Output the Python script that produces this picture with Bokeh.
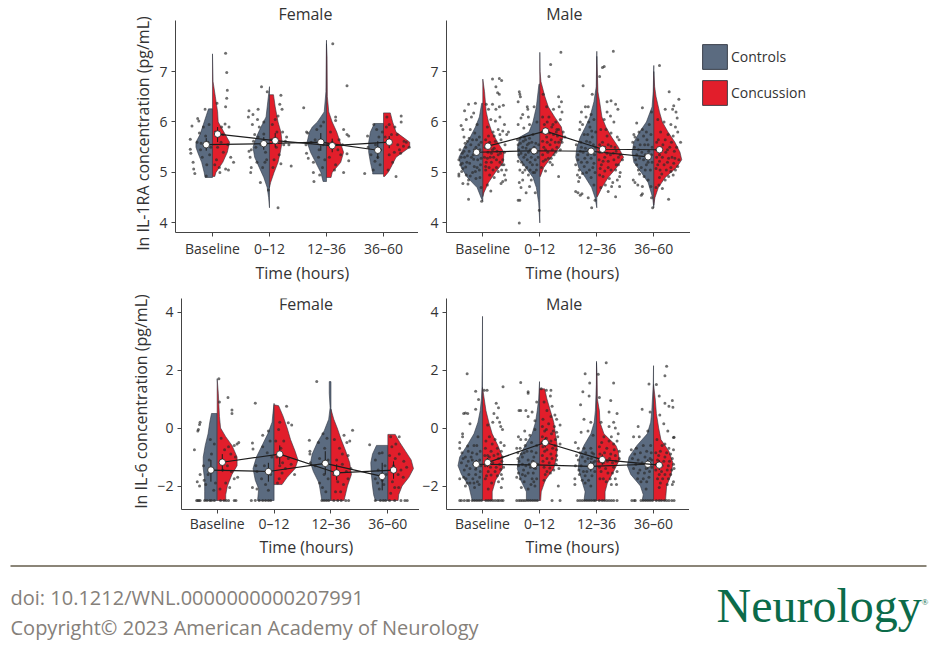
from bokeh.plotting import figure
from bokeh.layouts import column, row
from bokeh.models import Range1d, FixedTicker, Label, Legend, LegendItem, Title
from bokeh.embed import file_html
from bokeh.resources import INLINE
from bokeh.core.properties import value

times = [1, 2, 3, 4]
time_labels = ["Baseline", "0–12", "12–36", "36–60"]
group_labels = ["Controls", "Concussion"]
x_title = "Time (hours)"
y_title_top = "ln IL-1RA concentration (pg/mL)"
y_title_bottom = "ln IL-6 concentration (pg/mL)"

# Violins: flat y, half-width pairs, one list per time
a_ctrl_v = [
 [6.26,.07,5.9,.175,5.75,.22,5.6,.29,5.5,.29,5.4,.26,5.2,.19,5.0,.146,4.9,.13],
 [6.7,0,6.4,.03,6.1,.06,5.9,.15,5.7,.23,5.5,.29,5.3,.26,5.1,.18,4.9,.1,4.7,.04,4.5,.015,4.3,0],
 [7.62,0,6.6,.01,6.2,.04,6.0,.16,5.9,.25,5.8,.3,5.6,.34,5.4,.28,5.2,.19,5.0,.1,4.82,.06],
 [5.97,.16,5.8,.23,5.6,.26,5.4,.26,5.2,.23,5.0,.19,4.97,.19],
]
a_conc_v = [
 [7.35,0,6.8,.01,6.5,.05,6.2,.09,6.0,.1,5.8,.2,5.6,.3,5.4,.26,5.2,.18,5.0,.06,4.92,.04],
 [6.54,.07,6.3,.1,6.0,.15,5.8,.2,5.6,.22,5.4,.19,5.2,.15,5.0,.08,4.8,.02,4.7,0],
 [7.55,0,7.3,.01,6.5,.015,6.2,.04,6.0,.1,5.8,.18,5.6,.24,5.4,.3,5.2,.25,5.0,.1,4.9,.08],
 [6.18,.12,6.0,.16,5.8,.22,5.7,.34,5.6,.46,5.5,.46,5.4,.34,5.3,.22,5.1,.13,5.0,.08,4.92,.02],
]
b_ctrl_v = [
 [6.37,.02,6.1,.06,5.9,.13,5.7,.22,5.5,.33,5.3,.42,5.1,.38,4.9,.27,4.7,.1,4.5,.03,4.43,0],
 [6.75,.015,6.3,.06,6.0,.12,5.8,.19,5.7,.35,5.5,.39,5.3,.38,5.1,.25,4.9,.12,4.7,.06,4.4,.02,4.0,0],
 [7.4,0,6.7,.01,6.4,.05,6.1,.12,5.9,.2,5.7,.29,5.5,.35,5.3,.37,5.1,.32,4.9,.2,4.7,.09,4.5,.03,4.3,0],
 [7.12,0,6.6,.01,6.3,.03,6.0,.13,5.8,.25,5.6,.35,5.4,.38,5.2,.35,5.0,.22,4.8,.1,4.5,.02,4.3,0],
]
b_conc_v = [
 [6.85,0,6.6,.03,6.2,.06,6.0,.1,5.8,.16,5.6,.26,5.4,.37,5.2,.36,5.0,.22,4.8,.1,4.6,.02,4.52,0],
 [7.38,0,7.0,.005,6.8,.02,6.5,.09,6.3,.15,6.1,.26,5.9,.38,5.7,.41,5.5,.35,5.3,.2,5.1,.07,4.92,.01],
 [7.3,0,6.6,.02,6.4,.05,6.1,.09,5.9,.16,5.7,.26,5.5,.38,5.3,.47,5.1,.35,4.9,.2,4.7,.09,4.52,.01],
 [7.0,0,6.7,.015,6.5,.04,6.2,.1,6.0,.15,5.8,.25,5.6,.37,5.4,.46,5.25,.49,5.1,.4,4.9,.2,4.7,.08,4.5,.02,4.35,0],
]
c_ctrl_v = [
 [.5,.1,.2,.13,-.2,.16,-.6,.21,-1.0,.245,-1.4,.245,-1.8,.22,-2.2,.22,-2.5,.22],
 [.85,0,.5,.02,.2,.035,-.2,.11,-.6,.21,-1.0,.31,-1.4,.37,-1.8,.33,-2.1,.27,-2.5,.29],
 [1.6,.03,1.2,.03,.7,.015,.3,.04,-.1,.12,-.5,.24,-.9,.33,-1.2,.36,-1.5,.31,-1.9,.21,-2.5,.16],
 [-.6,.2,-.9,.27,-1.2,.3,-1.6,.29,-2.0,.27,-2.3,.25,-2.5,.22],
]
c_conc_v = [
 [1.7,0,1.2,.02,.8,.03,.4,.04,0,.06,-.3,.15,-.6,.26,-1.0,.35,-1.3,.35,-1.6,.26,-2.0,.18,-2.3,.15,-2.5,.15],
 [.8,0,.77,.08,.4,.16,0,.23,-.4,.29,-.8,.37,-1.1,.42,-1.4,.37,-1.7,.23,-1.95,.14],
 [.65,0,.3,.05,0,.11,-.4,.18,-.8,.26,-1.2,.33,-1.6,.36,-2.0,.29,-2.5,.23],
 [-.22,.13,-.5,.21,-.8,.31,-1.1,.41,-1.4,.45,-1.7,.37,-2.0,.25,-2.3,.19,-2.5,.18],
]
d_ctrl_v = [
 [3.85,0,2.2,.005,1.4,.01,1.0,.02,.6,.04,.2,.08,-.2,.15,-.6,.27,-1.0,.4,-1.3,.43,-1.6,.37,-2.0,.24,-2.5,.18],
 [1.6,0,1.0,.015,.6,.04,.2,.07,-.2,.13,-.6,.25,-1.0,.36,-1.4,.39,-1.8,.33,-2.2,.23,-2.5,.23],
 [2.3,0,1.5,.003,.6,.02,.2,.04,-.2,.1,-.6,.22,-1.0,.3,-1.4,.32,-1.8,.26,-2.2,.2,-2.5,.22],
 [2.15,0,1.5,.005,.6,.03,.2,.05,-.2,.11,-.6,.29,-1.0,.43,-1.3,.46,-1.6,.4,-2.0,.23,-2.3,.18,-2.5,.2],
]
d_conc_v = [
 [1.4,0,1.0,.03,.6,.06,.2,.11,-.2,.17,-.6,.27,-1.0,.35,-1.4,.35,-1.8,.23,-2.2,.17,-2.5,.17],
 [1.35,.09,1.0,.13,.6,.19,.2,.25,-.2,.28,-.6,.31,-1.0,.3,-1.4,.25,-1.8,.1,-2.2,.03,-2.5,.02],
 [2.25,0,1.8,.01,1.0,.015,.6,.05,.2,.06,-.2,.13,-.6,.34,-.8,.38,-1.1,.4,-1.5,.3,-1.9,.19,-2.2,.15,-2.5,.15],
 [1.5,0,1.0,.03,.5,.05,0,.09,-.4,.13,-.8,.27,-1.2,.34,-1.6,.31,-2.0,.23,-2.5,.21],
]

# Means and error bars per time
a_ctrl_mean = [5.55, 5.57, 5.6, 5.44]
a_conc_mean = [5.76, 5.63, 5.53, 5.6]
a_ctrl_low = [5.43, 5.45, 5.43, 5.27]
a_ctrl_high = [5.68, 5.7, 5.78, 5.62]
a_conc_low = [5.6, 5.5, 5.4, 5.48]
a_conc_high = [5.9, 5.78, 5.67, 5.72]
b_ctrl_mean = [5.4, 5.43, 5.42, 5.31]
b_conc_mean = [5.52, 5.82, 5.46, 5.45]
b_ctrl_low = [5.35, 5.38, 5.36, 5.25]
b_ctrl_high = [5.45, 5.48, 5.48, 5.37]
b_conc_low = [5.46, 5.75, 5.4, 5.39]
b_conc_high = [5.58, 5.89, 5.52, 5.51]
c_ctrl_mean = [-1.45, -1.5, -1.22, -1.67]
c_conc_mean = [-1.18, -.9, -1.55, -1.45]
c_ctrl_low = [-1.85, -1.85, -1.6, -2.15]
c_ctrl_high = [-1.1, -1.2, -.8, -1.2]
c_conc_low = [-1.5, -1.25, -1.8, -1.75]
c_conc_high = [-.9, -.6, -1.25, -1.15]
d_ctrl_mean = [-1.25, -1.27, -1.32, -1.25]
d_conc_mean = [-1.19, -.5, -1.09, -1.28]
d_ctrl_low = [-1.4, -1.42, -1.5, -1.42]
d_ctrl_high = [-1.1, -1.12, -1.14, -1.08]
d_conc_low = [-1.35, -.67, -1.27, -1.45]
d_conc_high = [-1.03, -.33, -.91, -1.11]
ctrl_offset = [-.11, -.1, -.1, -.1]
conc_offset = [.09, .1, .1, .1]

# Individual samples: flat x offset, y pairs, one list per time
a_ctrl_pts = [
 [-.39,5.66,-.36,5.92,-.26,6.07,-.13,6.25,-.23,5.78,-.39,5.46,-.38,5.38,-.34,5.2,-.33,5.07,-.31,4.98,-.24,6.02,-.16,5.9,-.27,5.6,-.12,5.72,-.21,5.45,-.08,5.6,-.18,5.3,-.1,5.15,-.06,5.95,-.11,4.93,-.03,5.5,-.2,5.58,-.05,5.35],
 [-.36,6.22,-.37,6.1,-.29,6.15,-.2,6.25,-.21,6.05,-.14,6.7,-.04,6.6,-.1,6.0,-.3,5.95,-.26,5.75,-.1,5.76,-.2,5.7,-.32,5.45,-.36,5.42,-.34,5.3,-.32,5.1,-.33,5.0,-.16,4.8,-.05,5.25,-.12,5.1,-.24,5.5,-.15,5.55,-.07,5.4,-.02,4.65,-.28,5.62,-.18,5.9,-.08,5.2,-.22,5.2],
 [-.4,6.28,-.35,5.8,-.33,5.78,-.36,5.55,-.35,5.38,-.32,5.28,-.23,5.2,-.23,5.0,-.22,4.82,-.12,4.95,-.07,5.1,-.14,5.3,-.2,5.65,-.1,5.92,-.05,6.0,-.17,5.85,-.27,5.6,-.06,5.55,-.03,5.25,-.13,5.45],
 [-.33,4.98,-.28,5.72,-.27,5.5,-.22,5.35,-.15,5.22,-.17,5.95,-.08,5.7,-.14,5.55,-.06,5.15,-.12,5.85,-.05,5.45,-.18,5.05,-.1,5.3,-.02,5.8],
]
a_conc_pts = [
 [.23,7.36,.25,6.98,.26,6.63,.25,6.47,.23,6.3,.08,6.37,.22,5.96,.29,5.9,.32,5.3,.37,5.2,.23,5.07,.12,5.1,.05,5.8,.15,5.6,.09,5.5,.18,5.75,.27,5.55,.07,5.25,.19,5.4,.13,5.0,.04,5.15,.28,5.05,.16,5.9],
 [.2,6.53,.18,6.35,.22,6.25,.15,6.12,.15,4.3,.2,5.17,.38,5.13,.25,5.55,.3,5.7,.05,5.95,.1,6.05,.12,5.5,.08,5.25,.17,5.35,.03,5.65,.13,5.8,.34,5.55,.28,5.62,.06,5.1,.23,5.8],
 [.11,7.55,.36,6.72,.16,6.1,.3,5.85,.36,5.75,.39,5.72,.16,6.03,.36,5.37,.39,5.23,.3,5.0,.16,5.15,.05,5.3,.1,5.6,.2,5.45,.25,5.35,.07,5.8,.14,5.05,.03,5.55,.22,5.65,.28,5.55],
 [.31,6.12,.31,6.0,.22,4.92,.14,5.75,.2,5.9,.06,6.1,.1,5.35,.25,5.55,.35,5.52,.4,5.6,.45,5.5,.16,5.2,.08,5.05,.03,5.7,.28,5.45,.36,5.62,.12,5.6,.19,5.4,.05,5.9,.24,5.75,.1,5.95,.3,5.38],
]
b_ctrl_pts = [
 [-.32,6.22,-.38,5.93,-.35,5.85,-.25,6.35,-.13,6.37,-.2,6.1,-.16,6.18,-.29,6.05,-.1,5.95,-.22,5.85,-.14,5.78,-.33,5.7,-.27,5.62,-.18,5.65,-.06,5.7,-.4,5.45,-.42,5.25,-.36,5.38,-.3,5.5,-.24,5.42,-.12,5.5,-.05,5.45,-.39,5.15,-.35,5.08,-.28,5.2,-.2,5.3,-.09,5.25,-.15,5.12,-.42,4.97,-.42,4.93,-.35,4.78,-.29,4.95,-.25,4.85,-.18,5.0,-.06,5.05,-.12,4.88,-.26,4.77,-.03,4.7,-.25,4.47,-.02,4.43,-.07,5.55,-.17,5.35,-.32,5.3,
  -.38,5.3,-.33,5.42,-.27,5.33,-.21,5.55,-.15,5.45,-.09,5.37,-.03,5.28,-.36,5.18,-.3,5.11,-.23,5.18,-.16,5.26,-.1,5.1,-.04,5.15,-.31,5.58,-.24,5.68,-.11,5.65,-.03,5.6,-.37,5.02,-.22,4.93,-.13,5.02,-.05,4.9],
 [-.36,6.6,-.35,6.55,-.34,6.5,-.38,6.4,-.22,6.3,-.21,6.25,-.3,6.15,-.2,6.1,-.33,6.08,-.38,5.95,-.28,5.88,-.18,5.95,-.1,6.3,-.05,6.0,-.12,5.75,-.35,5.68,-.25,5.65,-.18,5.68,-.38,5.55,-.3,5.5,-.22,5.55,-.1,5.5,-.37,5.35,-.28,5.3,-.2,5.4,-.05,5.4,-.32,5.2,-.17,5.2,-.35,5.05,-.26,5.05,-.12,5.0,-.05,5.15,-.36,4.8,-.33,4.7,-.3,4.85,-.2,4.95,-.15,4.85,-.38,4.45,-.35,4.45,-.36,4.0,-.18,4.72,-.08,4.6,-.01,4.25,-.24,4.6,-.27,5.7,-.15,5.3,-.08,5.25,
  -.39,5.65,-.34,5.58,-.29,5.62,-.24,5.48,-.19,5.58,-.14,5.6,-.07,5.58,-.37,5.45,-.33,5.38,-.25,5.35,-.17,5.45,-.11,5.38,-.03,5.3,-.38,5.22,-.29,5.15,-.22,5.25,-.13,5.15,-.06,5.05,-.3,5.0,-.23,5.1,-.17,5.05,-.09,5.0,-.02,5.55],
 [-.24,6.72,-.08,6.55,-.2,6.3,-.27,6.2,-.15,6.3,-.29,6.0,-.19,6.1,-.1,6.15,-.05,6.05,-.3,5.85,-.22,5.75,-.12,5.9,-.02,5.8,-.36,5.55,-.28,5.6,-.18,5.62,-.08,5.7,-.33,5.35,-.24,5.4,-.14,5.45,-.04,5.35,-.37,5.15,-.27,5.2,-.17,5.2,-.07,5.1,-.34,4.95,-.32,4.82,-.3,4.9,-.25,4.98,-.18,5.0,-.1,4.9,-.05,4.75,-.33,4.6,-.29,4.55,-.37,4.62,-.15,4.5,-.09,4.3,-.26,4.58,-.03,4.45,-.02,5.5,
  -.33,5.25,-.29,5.42,-.21,5.28,-.16,5.35,-.1,5.28,-.05,5.18,-.31,5.05,-.22,5.12,-.13,5.05,-.03,5.0,-.27,5.5,-.2,5.48,-.12,5.6,-.06,5.55,-.16,5.75,-.09,5.82,-.25,5.95,-.14,6.0],
 [-.2,6.28,-.04,6.2,-.3,5.98,-.35,5.75,-.33,5.7,-.26,5.8,-.2,5.85,-.08,5.95,-.12,5.65,-.24,5.55,-.34,5.5,-.3,5.35,-.21,5.4,-.05,5.75,-.15,5.35,-.07,5.3,-.3,5.15,-.22,5.1,-.13,5.15,-.03,5.2,-.36,4.85,-.33,4.8,-.28,4.75,-.25,4.97,-.17,4.92,-.1,4.85,-.2,4.72,-.05,4.72,-.22,4.55,-.2,4.58,-.04,4.5,-.02,4.3,-.27,5.05,-.37,5.6,-.16,5.55,
  -.28,5.65,-.18,5.72,-.1,5.55,-.03,5.5,-.27,5.45,-.18,5.25,-.1,5.2,-.04,5.35,-.32,5.25,-.25,5.28,-.15,5.05,-.06,5.05,-.09,5.42,-.13,5.8],
]
b_conc_pts = [
 [.17,6.85,.29,6.86,.33,6.82,.23,6.7,.26,6.58,.29,6.55,.06,6.35,.1,6.25,.17,6.35,.23,6.25,.29,6.3,.36,6.33,.14,6.05,.22,6.02,.3,6.1,.38,5.95,.08,5.9,.18,5.8,.27,5.85,.35,5.82,.42,5.75,.05,5.65,.12,5.6,.22,5.62,.32,5.65,.39,5.55,.09,5.4,.17,5.45,.27,5.35,.35,5.25,.06,5.2,.15,5.2,.24,5.1,.33,5.05,.38,4.95,.4,4.85,.32,4.78,.35,4.82,.12,4.95,.2,4.9,.08,4.75,.14,4.63,.45,5.8,.05,5.05,
  .04,5.5,.1,5.52,.15,5.38,.2,5.48,.25,5.42,.31,5.38,.38,5.4,.03,5.3,.08,5.28,.13,5.3,.19,5.3,.24,5.25,.3,5.2,.37,5.15,.05,5.12,.11,5.1,.18,5.05,.27,5.02,.34,5.15,.41,5.05,.1,5.72,.2,5.72,.3,5.75],
 [.37,7.38,.19,7.14,.16,6.9,.33,6.5,.38,6.4,.06,6.55,.12,6.3,.24,6.25,.34,6.3,.39,6.2,.16,6.1,.28,6.0,.36,6.05,.08,5.95,.21,5.9,.33,5.85,.41,5.8,.12,5.7,.24,5.75,.37,5.65,.07,5.5,.18,5.55,.3,5.5,.05,5.35,.14,5.4,.25,5.35,.03,5.1,.1,5.25,.18,5.2,.2,5.28,.36,5.45,.1,5.03,.33,4.92,.27,5.6,.44,5.7,
  .05,6.1,.13,6.0,.23,5.95,.31,5.72,.04,5.8,.1,5.85,.17,5.78,.29,5.8,.05,5.62,.13,5.6,.2,5.65,.33,5.6,.1,5.45,.22,5.45,.28,5.4,.06,5.22,.15,5.28,.22,5.15,.3,5.85,.39,5.6],
 [.29,7.4,.13,7.1,.1,7.08,.05,6.9,.18,6.4,.25,6.42,.33,6.35,.37,6.25,.18,6.2,.24,6.12,.13,6.05,.3,6.0,.07,5.85,.16,5.85,.25,5.78,.36,5.7,.39,5.65,.1,5.6,.2,5.55,.32,5.5,.05,5.4,.14,5.3,.24,5.35,.38,5.3,.45,5.25,.08,5.15,.2,5.1,.33,5.05,.41,5.0,.4,4.92,.36,4.85,.28,4.8,.22,4.88,.15,4.75,.07,4.7,.33,4.52,.2,4.62,.26,4.72,.4,4.72,
  .05,5.55,.14,5.5,.25,5.52,.34,5.42,.09,5.4,.18,5.38,.29,5.38,.41,5.35,.04,5.25,.11,5.22,.2,5.22,.3,5.25,.38,5.15,.06,5.08,.14,5.03,.25,5.05,.34,5.15,.11,4.92,.05,4.95,.18,5.72],
 [.1,7.12,.27,6.6,.44,6.45,.35,6.32,.33,6.25,.39,6.2,.41,6.08,.2,6.25,.07,6.05,.18,6.0,.3,5.95,.38,5.9,.42,5.8,.12,5.8,.25,5.75,.34,5.72,.05,5.6,.16,5.55,.28,5.5,.4,5.5,.1,5.35,.21,5.4,.32,5.3,.44,5.25,.07,5.15,.18,5.15,.3,5.1,.38,5.05,.14,4.97,.26,4.92,.34,4.95,.2,4.85,.09,4.75,.15,4.68,.04,4.7,.26,4.47,.47,5.6,
  .05,5.45,.13,5.48,.24,5.45,.36,5.42,.05,5.3,.15,5.3,.26,5.28,.37,5.28,.1,5.22,.24,5.2,.35,5.18,.42,5.12,.04,5.08,.11,5.05,.22,5.05,.3,5.02,.08,5.65,.2,5.65,.31,5.6,.1,4.9],
]
c_ctrl_pts = [
 [-.4,-.75,-.3,.2,-.31,.12,-.33,-.05,-.34,-.1,-.05,-.55,-.1,-.9,-.14,-1.1,-.3,-1.6,-.35,-1.85,-.31,-2.0,-.23,-1.8,-.2,-1.95,-.24,-1.3,-.08,-1.4,-.03,-1.9,-.16,-1.6,-.12,-.4,-.06,-2.15,-.36,-2.5,-.34,-2.5,-.32,-2.5,-.3,-2.5,-.22,-2.5,-.18,-2.5,-.13,-2.5,-.1,-2.5,-.05,-2.5],
 [-.33,.85,-.38,-.52,-.37,-.72,-.2,-.25,-.1,-.1,-.07,-.45,-.2,-.65,-.12,-.85,-.32,-1.3,-.3,-1.5,-.38,-2.05,-.3,-2.1,-.22,-1.75,-.15,-1.95,-.1,-2.15,-.06,-1.6,-.17,-1.3,-.04,-1.0,-.4,-2.5,-.33,-2.5,-.26,-2.5,-.2,-2.5,-.15,-2.5,-.1,-2.5,-.06,-2.5],
 [-.25,1.6,-.38,-.42,-.37,-.8,-.37,-.9,-.36,-1.2,-.22,-.5,-.14,-.2,-.07,-.35,-.11,-.7,-.2,-1.05,-.28,-1.3,-.12,-1.6,-.05,-1.75,-.2,-1.9,-.15,-2.05,-.09,-2.2,-.05,-1.1,-.16,-2.5,-.12,-2.5,-.08,-2.5,-.04,-2.5],
 [-.32,-.58,-.15,-.87,-.1,-.85,-.22,-1.1,-.05,-1.3,-.17,-1.45,-.1,-1.8,-.18,-1.9,-.07,-1.95,-.03,-1.6,-.22,-1.75,-.15,-2.1,-.22,-2.5,-.13,-2.5,-.08,-2.5,-.04,-2.5],
]
c_conc_pts = [
 [.03,1.7,.19,1.05,.26,.62,.26,.5,.04,.9,.35,-.55,.38,-.5,.3,-.6,.2,-.65,.13,-.75,.07,-.35,.24,-.9,.32,-1.0,.36,-1.7,.3,-1.75,.18,-1.3,.1,-1.45,.25,-1.5,.15,-1.9,.05,-2.1,.22,-2.05,.06,-2.5,.12,-2.5,.16,-2.5,.2,-2.5,.3,-2.5,.33,-2.5],
 [.22,.75,.1,.2,.25,.18,.31,.1,.08,-.05,.17,-.45,.12,-.7,.03,-.45,.05,-1.0,.1,-1.3,.15,-1.2,.25,-1.05,.3,-1.25,.36,-1.6,.14,-1.55,.09,-1.75,.06,-1.9,.2,-1.4],
 [.23,-.25,.38,-.08,.33,-.45,.28,-.5,.3,-.95,.2,-.9,.15,-.7,.06,-.4,.1,-1.1,.2,-1.25,.27,-1.5,.35,-1.4,.3,-1.75,.22,-1.95,.12,-1.85,.08,-2.2,.17,-2.2,.05,-1.6,.05,-2.5,.12,-2.5,.18,-2.5,.26,-2.5,.31,-2.5],
 [.05,-.3,.2,-.3,.07,-.65,.14,-.55,.03,-.95,.13,-1.05,.2,-.9,.28,-1.15,.33,-1.35,.23,-1.45,.1,-1.3,.18,-1.6,.08,-1.85,.27,-1.7,.12,-2.05,.19,-2.05,.05,-2.25,.03,-2.5,.12,-2.5,.23,-2.5,.3,-2.5,.34,-2.5],
]
d_ctrl_pts = [
 [-.27,1.87,-.12,1.27,-.26,.5,-.33,.5,-.3,.52,-.12,.65,-.07,.98,-.22,.15,-.35,-.2,-.4,-.5,-.4,-.7,-.35,-.3,-.25,-.8,-.15,-.6,-.08,-.3,-.3,-1.0,-.2,-1.0,-.1,-.9,-.37,-1.2,-.28,-1.3,-.15,-1.25,-.05,-1.1,-.4,-1.75,-.33,-1.7,-.24,-1.6,-.12,-1.6,-.04,-1.5,-.3,-2.0,-.27,-1.9,-.15,-1.9,-.06,-1.95,-.4,-2.5,-.37,-2.5,-.32,-2.5,-.27,-2.5,-.24,-2.5,-.18,-2.5,-.14,-2.5,-.1,-2.5,-.06,-2.5,-.02,-2.5,
  -.34,-1.05,-.25,-1.15,-.18,-1.1,-.09,-1.2,-.03,-1.3,-.32,-1.45,-.22,-1.4,-.12,-1.42,-.05,-1.7,-.36,-.85,-.26,-.62,-.18,-.85,-.1,-.6,-.04,-.8,-.29,-1.75,-.17,-1.75,-.09,-1.85,-.22,-1.9,-.14,-2.05],
 [-.33,1.57,-.2,1.25,-.2,1.2,-.05,.9,-.36,.6,-.33,.6,-.24,.6,-.2,.4,-.13,.55,-.08,.25,-.37,-.3,-.33,-.4,-.26,-.1,-.17,-.25,-.08,-.05,-.4,-.7,-.34,-.7,-.25,-.6,-.14,-.8,-.05,-.6,-.38,-1.05,-.3,-1.0,-.2,-1.1,-.1,-1.0,-.37,-1.3,-.28,-1.45,-.16,-1.35,-.07,-1.4,-.4,-1.7,-.34,-1.75,-.25,-1.65,-.13,-1.75,-.32,-2.05,-.2,-2.1,-.08,-2.0,-.4,-2.5,-.36,-2.5,-.33,-2.5,-.3,-2.5,-.27,-2.5,-.24,-2.5,-.2,-2.5,-.16,-2.5,-.12,-2.5,-.08,-2.5,-.04,-2.5,
  -.38,-.85,-.32,-.9,-.27,-.85,-.22,-.8,-.12,-1.15,-.06,-.85,-.36,-1.15,-.3,-1.25,-.24,-1.3,-.18,-1.25,-.11,-1.55,-.03,-1.25,-.37,-1.55,-.3,-1.6,-.2,-1.55,-.1,-1.85,-.27,-1.85,-.15,-1.95,-.05,-1.75,-.24,-.4,-.14,-.5],
 [-.2,1.87,-.24,1.25,-.12,1.55,-.28,.8,-.13,1.1,-.1,.2,-.22,.3,-.27,-.15,-.37,-.5,-.15,-.1,-.06,-.25,-.32,-.7,-.22,-.7,-.1,-.7,-.35,-.95,-.25,-1.0,-.15,-1.05,-.05,-.9,-.37,-1.3,-.27,-1.3,-.13,-1.35,-.06,-1.2,-.38,-1.75,-.3,-1.6,-.2,-1.65,-.08,-1.65,-.38,-1.95,-.2,-1.9,-.1,-2.0,-.33,-2.5,-.29,-2.5,-.25,-2.5,-.21,-2.5,-.17,-2.5,-.13,-2.5,-.09,-2.5,-.05,-2.5,-.02,-2.5,
  -.32,-1.1,-.2,-1.15,-.09,-1.05,-.03,-1.15,-.31,-1.45,-.23,-1.5,-.17,-1.5,-.09,-1.35,-.03,-1.5,-.25,-1.8,-.14,-1.8,-.29,-.85,-.19,-.85,-.08,-.85],
 [-.08,1.52,-.2,.65,-.06,.55,-.27,.05,-.35,-.3,-.25,-.3,-.1,-.1,-.39,-.75,-.3,-.7,-.18,-.6,-.05,-.6,-.37,-1.05,-.27,-1.1,-.15,-1.0,-.06,-1.05,-.35,-1.4,-.24,-1.45,-.13,-1.4,-.03,-1.35,-.28,-1.75,-.18,-1.75,-.08,-1.7,-.38,-2.5,-.34,-2.5,-.32,-2.5,-.22,-2.5,-.18,-2.5,-.14,-2.5,-.1,-2.5,-.06,-2.5,-.02,-2.5,-.13,-2.1,
  -.33,-.9,-.23,-.85,-.12,-.8,-.04,-.85,-.31,-1.25,-.2,-1.2,-.1,-1.25,-.03,-1.1,-.27,-1.55,-.16,-1.55,-.07,-1.5,-.22,-1.85,-.12,-1.85],
]
d_conc_pts = [
 [.36,1.42,.08,1.3,.03,1.3,.24,.85,.28,.7,.2,.5,.26,.35,.3,.2,.32,.05,.35,-.05,.18,.2,.09,.1,.12,-.3,.22,-.4,.32,-.5,.38,-.6,.05,-.7,.15,-.8,.27,-.9,.35,-1.0,.08,-1.1,.18,-1.2,.3,-1.25,.37,-1.35,.1,-1.5,.22,-1.5,.33,-1.6,.28,-1.85,.16,-1.9,.05,-1.75,.33,-2.05,.1,-2.1,.06,-2.5,.1,-2.5,.14,-2.5,.18,-2.5,.22,-2.5,.26,-2.5,.29,-2.5,.33,-2.5,.36,-2.5,
  .04,-.95,.12,-1.0,.2,-.95,.28,-1.05,.34,-1.15,.05,-1.3,.14,-1.35,.24,-1.35,.32,-1.42,.07,-1.65,.15,-1.62,.26,-1.65,.35,-1.75,.06,-.45,.17,-.55,.26,-.7,.33,-.8,.09,-.95],
 [.03,1.35,.12,1.3,.2,1.3,.19,1.1,.08,.9,.22,.75,.27,.45,.3,.3,.13,.6,.2,.4,.06,.3,.16,.15,.26,.05,.36,.1,.09,-.1,.21,-.2,.32,-.3,.04,-.5,.15,-.5,.27,-.6,.36,-.55,.09,-.8,.2,-.9,.3,-.95,.06,-1.15,.17,-1.2,.29,-1.25,.13,-1.5,.25,-1.45,.34,-1.4,.33,-2.0,.08,-1.8,.22,-2.5,.36,-2.5,
  .05,.05,.12,-.05,.24,-.1,.3,-.15,.05,-.3,.12,-.35,.2,-.45,.28,-.4,.06,-.65,.13,-.75,.23,-.7,.3,-.75,.05,-.95,.13,-1.05,.22,-1.05,.3,-1.1,.08,-1.35,.18,-1.38,.1,-1.6,.19,-1.55],
 [.17,2.25,.03,1.85,.3,1.55,.05,1.05,.25,.95,.22,.55,.36,.5,.08,.2,.22,.05,.3,.2,.33,0,.38,-.2,.13,-.3,.26,-.3,.36,-.45,.05,-.65,.18,-.7,.31,-.75,.4,-.8,.1,-1.05,.23,-1.05,.34,-1.15,.05,-1.35,.16,-1.4,.3,-1.35,.12,-1.75,.24,-1.75,.33,-1.75,.35,-1.95,.05,-2.5,.1,-2.5,.14,-2.5,.18,-2.5,.22,-2.5,.26,-2.5,.3,-2.5,.36,-2.5,
  .06,-.9,.14,-.85,.25,-.9,.33,-.95,.4,-1.05,.04,-1.15,.12,-1.2,.19,-1.15,.28,-1.2,.08,-1.5,.2,-1.55,.28,-1.55,.36,-1.5,.06,-1.75,.17,-1.85,.26,-1.95,.09,-.5,.22,-.45,.3,-.55],
 [.23,2.13,.2,1.8,.05,1.5,.1,1.1,.33,.95,.2,.85,.27,.75,.34,.72,.11,.45,.18,.15,.25,-.1,.35,-.33,.36,-.32,.06,-.4,.15,-.6,.27,-.7,.35,-.75,.09,-.95,.2,-1.0,.33,-1.05,.05,-1.25,.15,-1.3,.26,-1.3,.36,-1.4,.1,-1.6,.2,-1.6,.3,-1.6,.35,-1.85,.33,-1.95,.24,-1.95,.12,-1.9,.05,-2.5,.1,-2.5,.14,-2.5,.19,-2.5,.23,-2.5,.27,-2.5,.32,-2.5,.36,-2.5,
  .04,-.85,.12,-.8,.23,-.85,.3,-.9,.07,-1.1,.18,-1.15,.28,-1.15,.35,-1.25,.04,-1.45,.14,-1.5,.24,-1.45,.32,-1.45,.07,-1.75,.16,-1.75,.26,-1.75,.1,-2.05,.2,-.55],
]

FONT = "Open Sans"
CTRL = "#5b6b80"
CONC = "#e21e2b"
INK = "#333333"


def panel(title, title_x, title_y, ticks, overrides, xr, yr, frame, borders, bounds, x_off, x_gap, tick_gap, ylab, y_off,
          ctrl_v, conc_v, ctrl_pts, conc_pts, ctrl_m, conc_m, ctrl_lo, ctrl_hi, conc_lo, conc_hi):
    left, right, top, bottom = borders
    p = figure(width=left + frame[0] + right, height=top + frame[1] + bottom,
               x_range=Range1d(*xr), y_range=Range1d(*yr), output_backend="svg",
               toolbar_location=None, min_border_left=left, min_border_right=right,
               min_border_top=top, min_border_bottom=bottom, outline_line_color=None)
    p.grid.visible = False
    for ax, tk in ((p.xaxis[0], times), (p.yaxis[0], ticks)):
        ax.ticker = FixedTicker(ticks=tk)
        ax.minor_tick_line_color = None
        ax.major_tick_in = 0
        ax.major_tick_out = 4
        ax.axis_line_color = "#444444"
        ax.major_tick_line_color = "#444444"
        ax.major_label_text_font = FONT
        ax.major_label_text_font_size = "14px"
        ax.major_label_text_color = INK
    p.yaxis[0].bounds = bounds
    p.xaxis[0].major_label_overrides = dict(zip(times, time_labels))
    p.xaxis[0].major_label_standoff = tick_gap
    p.yaxis[0].major_label_overrides = overrides
    p.yaxis[0].major_label_standoff = 4
    p.add_layout(Title(text=x_title, align="left", offset=x_off, standoff=x_gap, text_font=FONT, text_font_size="16px",
                       text_font_style="normal", text_color=INK), "below")
    if ylab:
        p.add_layout(Title(text=ylab, align="left", offset=y_off, standoff=5, text_font=FONT, text_font_size="16px",
                           text_font_style="normal", text_color=INK), "left")

    renderers = []
    for vs, sign, col in ((ctrl_v, -1, CTRL), (conc_v, 1, CONC)):
        xs, ys = [], []
        for t, v in zip(times, vs):
            yy, ww = v[0::2], v[1::2]
            xs.append([t + sign * w for w in ww] + [t, t])
            ys.append(yy + [yy[-1], yy[0]])
        renderers.append(p.patches(xs, ys, fill_color=col, line_color="#2f3440", line_width=0.7, line_alpha=0.85))

    for pts in (ctrl_pts, conc_pts):
        for t, v in zip(times, pts):
            xx = [t + d for d in v[0::2]]
            p.scatter(xx, v[1::2], size=3, marker="circle", fill_color="#2b2b2b", fill_alpha=0.68, line_color=None)

    for m, lo, hi, off in ((ctrl_m, ctrl_lo, ctrl_hi, ctrl_offset), (conc_m, conc_lo, conc_hi, conc_offset)):
        xx = [t + o for t, o in zip(times, off)]
        p.segment(xx, lo, xx, hi, line_color="#1d1d1d", line_width=1)
        p.line(xx, m, line_color="#1d1d1d", line_width=1.2)
        p.scatter(xx, m, size=6.5, marker="circle", fill_color="white", line_color="#1d1d1d", line_width=0.8)

    p.add_layout(Label(x=title_x, y=title_y, text=title, text_font=FONT, text_font_size="16px",
                       text_color=INK, text_align="center", text_baseline="middle"))
    return p


p1 = panel("Female", 2.63, 8.13, [4, 5, 6, 7], {}, (.351, 4.614), (3.81, 8.308), (243, 227), (175, 0, 5, 58), (3.81, 8.01), 80, -2, 2,
           y_title_top, -18, a_ctrl_v, a_conc_v, a_ctrl_pts, a_conc_pts, a_ctrl_mean, a_conc_mean,
           a_ctrl_low, a_ctrl_high, a_conc_low, a_conc_high)
p2 = panel("Male", 2.43, 8.13, [4, 5, 6, 7], {}, (.363, 4.644), (3.81, 8.308), (244, 227), (28, 0, 5, 58), (3.81, 8.01), 79, -2, 2,
           None, 0, b_ctrl_v, b_conc_v, b_ctrl_pts, b_conc_pts, b_ctrl_mean, b_conc_mean,
           b_ctrl_low, b_ctrl_high, b_conc_low, b_conc_high)
tick_over = {-2: "−2", 0: "0", 2: "2", 4: "4"}
p3 = panel("Female", 2.56, 4.27, [-2, 0, 2, 4], tick_over, (.373, 4.556), (-2.81, 4.466), (238, 211), (181, 0, 8, 55), (-2.81, 4.466), 78, -3, 0,
           y_title_bottom, 1, c_ctrl_v, c_conc_v, c_ctrl_pts, c_conc_pts, c_ctrl_mean, c_conc_mean,
           c_ctrl_low, c_ctrl_high, c_conc_low, c_conc_high)
p4 = panel("Male", 2.43, 4.27, [-2, 0, 2, 4], tick_over, (.368, 4.631), (-2.81, 4.466), (243, 211), (27, 0, 8, 55), (-2.81, 4.466), 79, -3, 0,
           None, 0, d_ctrl_v, d_conc_v, d_ctrl_pts, d_conc_pts, d_ctrl_mean, d_conc_mean,
           d_ctrl_low, d_ctrl_high, d_conc_low, d_conc_high)

# Legend in its own figure to the right of the top row; its keys are the first
# violin shapes, kept outside this figure's view so that only the legend shows
p_leg = figure(width=140, height=290, x_range=Range1d(100, 101), y_range=Range1d(100, 101), output_backend="svg",
               toolbar_location=None, min_border=0, outline_line_color=None)
p_leg.axis.visible = False
p_leg.grid.visible = False
leg_ctrl = p_leg.patches([[1 - w for w in a_ctrl_v[0][1::2]]], [a_ctrl_v[0][0::2]], fill_color=CTRL, line_color="#2f3440", line_width=0.9)
leg_conc = p_leg.patches([[1 + w for w in a_conc_v[0][1::2]]], [a_conc_v[0][0::2]], fill_color=CONC, line_color="#2f3440", line_width=0.9)
legend = Legend(items=[LegendItem(label=group_labels[0], renderers=[leg_ctrl]),
                       LegendItem(label=group_labels[1], renderers=[leg_conc])],
                glyph_width=31, glyph_height=31, spacing=5, label_standoff=1,
                label_text_font=FONT, label_text_font_size="14px", label_text_color=INK,
                border_line_color=None, background_fill_alpha=0,
                margin=0, padding=0, location=(9, 124))
p_leg.add_layout(legend, "center")

# Footer
footer = figure(width=932, height=86, x_range=Range1d(0, 932), y_range=Range1d(86, 0),
                output_backend="svg", toolbar_location=None, min_border=0, outline_line_color=None)
footer.axis.visible = False
footer.grid.visible = False
footer.segment([10], [1.5], [926], [1.5], line_color="#8b8578", line_width=2)
footer.text([10], [33], text=["doi: 10.1212/WNL.0000000000207991"], text_font=value(FONT), text_font_size="20px",
            text_color="#85807a", text_baseline="middle")
footer.text([10], [63], text=["Copyright© 2023 American Academy of Neurology"], text_font=value(FONT), text_font_size="20px",
            text_color="#85807a", text_baseline="middle")
footer.text([716], [41], text=["Neurology"], text_font=value("Liberation Serif"), text_font_size="48px",
            text_color="#0b6b4a", text_baseline="alphabetic")
footer.text([921], [37], text=["®"], text_font=value("Liberation Serif"), text_font_size="9px",
            text_color="#0b6b4a", text_baseline="middle")

layout = column(row(p1, p2, p_leg, spacing=0), row(p3, p4, spacing=0), footer, spacing=0)
open("out.html", "w").write(file_html(layout, INLINE))
